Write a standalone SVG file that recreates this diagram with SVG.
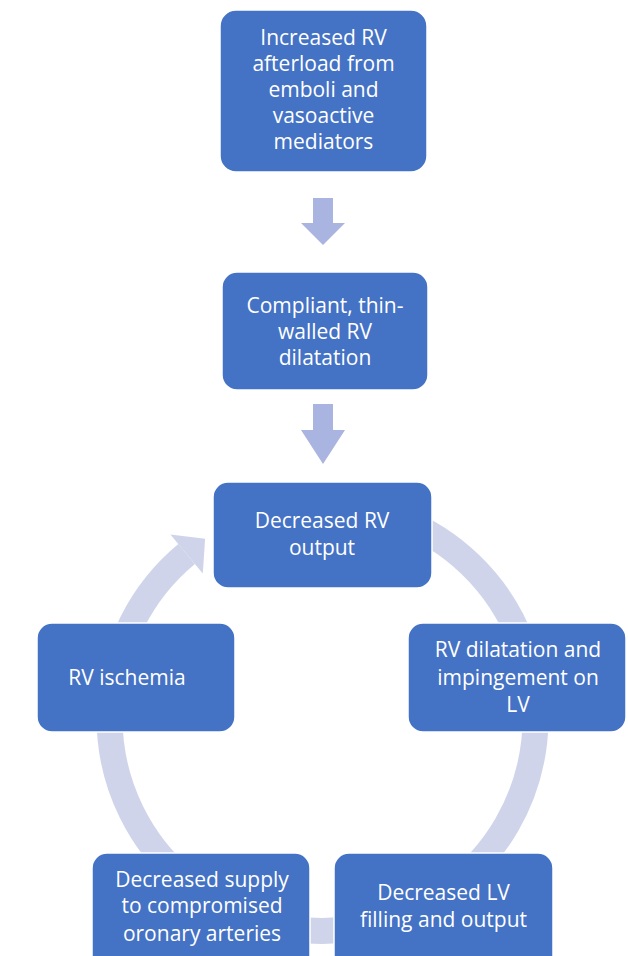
<svg xmlns="http://www.w3.org/2000/svg" width="628" height="956" viewBox="0 0 628 956">
  <style>
    .box { fill: #4472C4; stroke: #FFFFFF; stroke-width: 1.5; }
    .lbl { font-family: "Open Sans", "Noto Sans", "Liberation Sans", sans-serif; font-size: 21px; fill: #FFFFFF; text-anchor: middle; }
    .ring { fill: none; stroke: #CFD4EA; stroke-width: 26; }
    .down { fill: #AAB4E1; }
    .head { fill: #CFD4EA; }
  </style>
  <rect width="628" height="956" fill="#FFFFFF"/>
  <g id="connectors">
    <path class="ring" d="M 395.4 517.8 A 213 213 0 1 1 186.6 554"/>
    <polygon class="head" points="205.1,538.7 170.4,534.4 202.8,573.6"/>
    <polygon class="down" points="313,198 333,198 333,223 345,223 323,245 301,223 313,223"/>
    <polygon class="down" points="313,404 333,404 333,430 345,430 323,464 301,430 313,430"/>
  </g>
  <g id="node1">
    <rect class="box" x="220" y="10" width="207" height="162" rx="16"/>
    <text class="lbl"><tspan x="323.5" y="45">Increased RV</tspan><tspan x="323.5" y="71">afterload from</tspan><tspan x="323.5" y="97">emboli and</tspan><tspan x="323.5" y="123">vasoactive</tspan><tspan x="323.5" y="149">mediators</tspan></text>
  </g>
  <g id="node2">
    <rect class="box" x="222" y="272" width="206" height="118" rx="15"/>
    <text class="lbl"><tspan x="325" y="313">Compliant, thin-</tspan><tspan x="325" y="339">walled RV</tspan><tspan x="325" y="365">dilatation</tspan></text>
  </g>
  <g id="node3">
    <rect class="box" x="213" y="482" width="219" height="106" rx="15"/>
    <text class="lbl"><tspan x="322" y="528">Decreased RV</tspan><tspan x="322" y="555">output</tspan></text>
  </g>
  <g id="node4">
    <rect class="box" x="37" y="623" width="198" height="109" rx="15"/>
    <text class="lbl"><tspan x="127" y="685">RV ischemia</tspan></text>
  </g>
  <g id="node5">
    <rect class="box" x="408" y="623" width="218" height="109" rx="15"/>
    <text class="lbl"><tspan x="518" y="657">RV dilatation and</tspan><tspan x="518" y="685">impingement on</tspan><tspan x="518" y="712">LV</tspan></text>
  </g>
  <g id="node6">
    <rect class="box" x="92" y="853" width="218" height="125" rx="15"/>
    <text class="lbl"><tspan x="202" y="887">Decreased supply</tspan><tspan x="202" y="913">to compromised</tspan><tspan x="202" y="941">oronary arteries</tspan></text>
  </g>
  <g id="node7">
    <rect class="box" x="334" y="853" width="219" height="125" rx="15"/>
    <text class="lbl"><tspan x="443.5" y="900">Decreased LV</tspan><tspan x="443.5" y="927">filling and output</tspan></text>
  </g>
</svg>
